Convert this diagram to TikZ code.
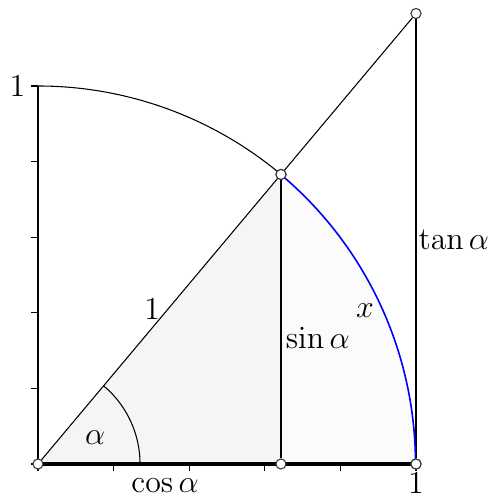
\documentclass[tikz,border=0pt]{standalone}
\usetikzlibrary{calc}
\begin{document}
\begin{tikzpicture}[x=5cm,y=5cm,
  pt/.style={circle,draw=black!80,fill=white,inner sep=0pt,minimum size=3.8pt,line width=0.4pt},
  lbl/.style={font=\fontsize{12.4}{15}\selectfont,inner sep=1pt},
  seg/.style={line width=0.4pt},
  tickmark/.style={line width=0.5pt}]
\useasboundingbox (-0.1005,-0.09) rectangle (1.2222,1.2275);
\pgfmathsetmacro{\c}{cos(50)}
\pgfmathsetmacro{\s}{sin(50)}
\pgfmathsetmacro{\t}{tan(50)}
\coordinate (Y) at (0,1);
% fills
\fill[gray!8] (0,0) -- (\c,\s) -- (\c,0) -- cycle;
\fill[gray!3] (\c,0) -- (\c,\s) arc[start angle=50,end angle=0,radius=1] -- cycle;
% ticks
\foreach \i in {0,0.2,0.4,0.6,0.8,1} {
  \draw[tickmark] (\i,0) -- (\i,-0.019);
  \draw[tickmark] (0,\i) -- (-0.019,\i);
}
% axes
\draw[line width=1.2pt] (0,0) -- (1,0);
\draw[line width=0.8pt] (0,0) -- (0,1);
% angle arc
\draw[seg] (0.27,0) arc[start angle=0,end angle=50,radius=0.27];
% points
\node[pt] (O) at (0,0) {};
\node[pt] (C) at (\c,0) {};
\node[pt] (E) at (1,0) {};
\node[pt] (P) at (\c,\s) {};
\node[pt] (T) at (1,\t) {};
% lines
\draw[seg] (O) -- (P);
\draw[seg] (P) -- (T);
\draw[seg] (C) -- (P);
\draw[seg] (E) -- (T);
\draw[seg] (Y) arc[start angle=90,end angle=50,radius=1];
\draw[blue,line width=0.6pt] (P) ++(0.004,-0.004) arc[start angle=49.6,end angle=0.6,radius=1];
\node[pt] at (P) {};
\node[pt] at (E) {};
% labels
\node[lbl,anchor=east] (l1y) at (-0.025,1) {$1$};
\node[lbl] (l1h) at (0.302,0.41) {$1$};
\node[lbl] (lsin) at (0.74,0.333) {$\sin\alpha$};
\node[lbl] (ltan) at (1.1,0.593) {$\tan\alpha$};
\node[lbl] (lx) at (0.865,0.405) {$x$};
\node[lbl] (lcos) at (0.336,-0.058) {$\cos\alpha$};
\node[lbl] (l1x) at (1,-0.052) {$1$};
\node[lbl] (la) at (0.151,0.069) {$\alpha$};
\end{tikzpicture}
\end{document}
